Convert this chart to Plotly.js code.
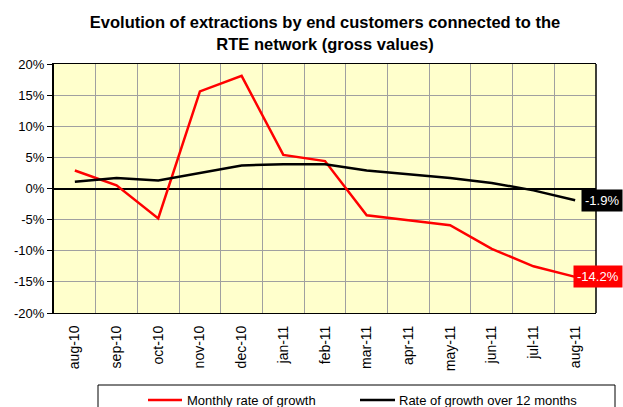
<!DOCTYPE html>
<html><head><meta charset="utf-8">
<script src="https://cdn.plot.ly/plotly-3.0.1.min.js"></script>
<style>html,body{margin:0;padding:0;background:#fff;}#chart{width:623px;height:407px;}</style>
</head><body><div id="chart"></div>
<script>
const months = ["aug-10","sep-10","oct-10","nov-10","dec-10","jan-11","feb-11","mar-11","apr-11","may-11","jun-11","jul-11","aug-11"];
const monthlyRate = [2.9, 0.5, -4.8, 15.6, 18.1, 5.4, 4.4, -4.3, -5.1, -5.9, -9.7, -12.5, -14.2];
const rate12Months = [1.1, 1.7, 1.3, 2.5, 3.7, 3.9, 3.9, 2.9, 2.3, 1.7, 0.9, -0.3, -1.9];
const seriesNames = ["Monthly rate of growth", "Rate of growth over 12 months"];
const seriesColors = ["#ff0000", "#000000"];
const yTickVals = [-20,-15,-10,-5,0,5,10,15,20];
const yTickText = yTickVals.map(v => v + "%");

const font = "Liberation Sans, Arial, sans-serif";
const W = 623, H = 407, L = 54, R = 27, T = 64, B = 94;
const pw = W - L - R, ph = H - T - B;
const px = x => (x - L) / pw;
const py = y => (H - B - y) / ph;

const traces = [
  {x: months, y: monthlyRate, type: "scatter", mode: "lines", name: seriesNames[0],
   line: {color: seriesColors[0], width: 2.5}},
  {x: months, y: rate12Months, type: "scatter", mode: "lines", name: seriesNames[1],
   line: {color: seriesColors[1], width: 2.5}}
];
const last = months.length - 1;
const legendLines = [[148, 182, 185], [360, 395, 397]];
const shapes = [
  {type: "line", xref: "paper", yref: "paper", x0: 1, x1: 1, y0: 0, y1: 1, line: {color: "#000", width: 1.5}},
  {type: "rect", xref: "paper", yref: "paper", x0: px(98), x1: px(615), y0: py(385), y1: py(430),
   line: {color: "#000", width: 1}, fillcolor: "rgba(0,0,0,0)"}
];
const annotations = [
  {xref: "paper", yref: "y", x: 1, y: rate12Months[last], xanchor: "right", xshift: 27,
   text: rate12Months[last].toFixed(1) + "%", showarrow: false, bgcolor: "#000000",
   font: {family: font, size: 13, color: "#ffffff"}, borderpad: 3},
  {xref: "paper", yref: "y", x: 1, y: monthlyRate[last], xanchor: "right", xshift: 27,
   text: monthlyRate[last].toFixed(1) + "%", showarrow: false, bgcolor: "#ff0000",
   font: {family: font, size: 13, color: "#ffffff"}, borderpad: 3}
];
legendLines.forEach((l, i) => {
  shapes.push({type: "line", xref: "paper", yref: "paper", x0: px(l[0]), x1: px(l[1]), y0: py(400), y1: py(400),
               line: {color: seriesColors[i], width: 2.5}});
  annotations.push({xref: "paper", yref: "paper", x: px(l[2]), y: py(400), xanchor: "left", yanchor: "middle",
                    text: seriesNames[i], showarrow: false, font: {family: font, size: 13, color: "#000"}});
});

const layout = {
  width: W, height: H,
  margin: {l: L, r: R, t: T, b: B, autoexpand: false},
  paper_bgcolor: "#ffffff", plot_bgcolor: "#ffffcc",
  font: {family: font, size: 13, color: "#000"},
  title: {text: "<b>Evolution of extractions by end customers connected to the<br>RTE network (gross values)</b>",
          font: {family: font, size: 16.5, color: "#000"}, x: 0.5, xref: "paper", xanchor: "center",
          y: 0.93, yref: "container", yanchor: "top", automargin: false},
  showlegend: false,
  xaxis: {type: "category", tickson: "boundaries", range: [-0.5, months.length - 0.5], showgrid: true,
          gridcolor: "#a0a0a0", gridwidth: 1,
          tickangle: -90, ticks: "", ticklabelstandoff: 6,
          showline: true, linecolor: "#000", linewidth: 1, mirror: true,
          automargin: false, tickfont: {family: font, size: 14, color: "#000"}, zeroline: false},
  yaxis: {range: [-20, 20], tickvals: yTickVals, ticktext: yTickText, showgrid: true, gridcolor: "#a0a0a0",
          gridwidth: 1, zeroline: true, zerolinecolor: "#000", zerolinewidth: 2, showline: true,
          linecolor: "#000", linewidth: 2, mirror: false, ticks: "outside", ticklen: 5, tickcolor: "#000",
          automargin: false, tickfont: {family: font, size: 13, color: "#000"}},
  shapes: shapes,
  annotations: annotations
};
Plotly.newPlot("chart", traces, layout, {displayModeBar: false, staticPlot: true});
</script></body></html>
